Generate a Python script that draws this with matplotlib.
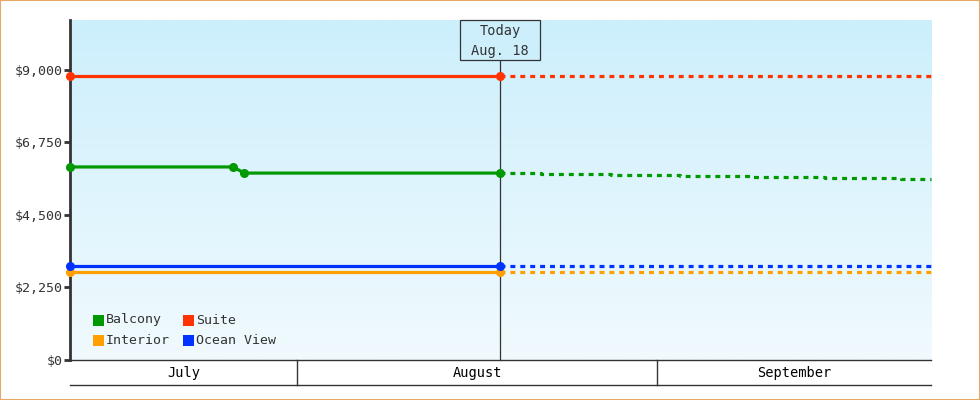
import matplotlib
matplotlib.use("Agg")
import matplotlib.pyplot as plt
import matplotlib.dates as mdates
from matplotlib.patches import Rectangle
from matplotlib.ticker import FuncFormatter
import numpy as np
import pandas as pd

plt.rcParams['font.family'] = ['DejaVu Sans Mono', 'DejaVu Sans']

# ---------------- data ----------------
x_start = "2024-07-12 11:00"
x_end = "2024-09-24 14:00"
today = "2024-08-18 12:00"
today_label = "Today\nAug. 18"

suite_dates = ["2024-07-12 11:00", "2024-08-18 12:00"]
suite_vals = [8820, 8820]
suite_fc_dates = ["2024-08-18 12:00", "2024-09-24 14:00"]
suite_fc_vals = [8820, 8820]

balcony_dates = ["2024-07-12 11:00", "2024-07-26 12:00", "2024-07-27 11:00", "2024-08-18 12:00"]
balcony_vals = [5990, 5990, 5800, 5800]
balcony_fc_dates = ["2024-08-18 12:00", "2024-08-22 00:00", "2024-08-28 00:00", "2024-09-03 00:00",
                    "2024-09-09 00:00", "2024-09-15 12:00", "2024-09-22 00:00", "2024-09-24 14:00"]
balcony_fc_vals = [5800, 5770, 5740, 5710, 5680, 5650, 5620, 5620]

ocean_dates = ["2024-07-12 11:00", "2024-08-18 12:00"]
ocean_vals = [2920, 2920]
ocean_fc_dates = ["2024-08-18 12:00", "2024-09-24 14:00"]
ocean_fc_vals = [2920, 2920]

interior_dates = ["2024-07-12 11:00", "2024-08-18 12:00"]
interior_vals = [2730, 2730]
interior_fc_dates = ["2024-08-18 12:00", "2024-09-24 14:00"]
interior_fc_vals = [2730, 2730]

y_ticks = [0, 2250, 4500, 6750, 9000]
y_max = 10550

months = ["July", "August", "September"]
month_bounds = ["2024-07-12 11:00", "2024-08-01 00:00", "2024-09-01 00:00", "2024-09-24 14:00"]

colors = {"Balcony": "#009900", "Suite": "#ff3300", "Interior": "#ffa000", "Ocean View": "#0033ff"}
dark = "#333333"

# ---------------- figure ----------------
W, H = 980, 400
fig = plt.figure(figsize=(W / 100, H / 100), dpi=100)
L, R, T, B = 70, 931, 20, 360
ax = fig.add_axes([L / W, 1 - B / H, (R - L) / W, (B - T) / H])

def d(lst):
    return mdates.date2num(pd.to_datetime(lst))

ax.set_xlim(d([x_start])[0], d([x_end])[0])
ax.set_ylim(0, y_max)

# gradient background
grad = np.linspace(0, 1, 256).reshape(-1, 1)
top = np.array([204, 239, 252]) / 255
bot = np.array([241, 250, 254]) / 255
img = bot[None, None, :] * (1 - grad[:, :, None]) + top[None, None, :] * grad[:, :, None]
ax.imshow(img, extent=[0, 1, 0, 1], transform=ax.transAxes, aspect='auto',
          origin='lower', zorder=0)

lw = 2.3
ms = 5.5
series = [
    ("Suite", suite_dates, suite_vals, suite_fc_dates, suite_fc_vals),
    ("Balcony", balcony_dates, balcony_vals, balcony_fc_dates, balcony_fc_vals),
    ("Interior", interior_dates, interior_vals, interior_fc_dates, interior_fc_vals),
    ("Ocean View", ocean_dates, ocean_vals, ocean_fc_dates, ocean_fc_vals),
]

# today line
tx = d([today])[0]
ax.axvline(tx, color=dark, lw=0.9, zorder=2)

for name, ds, vs, fds, fvs in series:
    c = colors[name]
    ax.plot(d(fds), fvs, color=c, lw=lw, linestyle=(0, (1.55, 1.55)), drawstyle='steps-post',
            zorder=3, clip_on=False, solid_capstyle='butt', dash_capstyle='butt')
    ax.plot(d(ds), vs, color=c, lw=lw, marker='o', ms=ms, zorder=4, clip_on=False)

# today box: 80x40 px, hanging from plot top, centered on today
fig.canvas.draw()
px, py = ax.transData.transform((tx, y_max))
bw, bh = 80, 40
fig.add_artist(Rectangle((px - bw / 2, py - bh), bw, bh, fc='#cdeffc', ec=dark, lw=0.9,
                         transform=None, zorder=6))
fig.text(px / W, (py - bh / 2 - 1) / H, today_label, ha='center', va='center', fontsize=9.8,
         color=dark, linespacing=1.5, zorder=7)

# axes styling
for s in ['top', 'right']:
    ax.spines[s].set_visible(False)
ax.spines['left'].set_color(dark)
ax.spines['left'].set_linewidth(2)
ax.spines['bottom'].set_color(dark)
ax.spines['bottom'].set_linewidth(1)
ax.set_yticks(y_ticks)
ax.yaxis.set_major_formatter(FuncFormatter(lambda v, p: f"${v:,.0f}"))
ax.tick_params(axis='y', direction='out', length=4, width=2, color=dark, labelsize=9.5,
               labelcolor=dark, pad=1)
ax.set_xticks([])

# month band
trans = ax.get_xaxis_transform()
band = -25 / (B - T)
ax.plot([0, 1], [band, band], transform=ax.transAxes, color=dark, lw=1, clip_on=False)
mb = d(month_bounds)
for b in mb[1:-1]:
    ax.plot([b, b], [0, band], transform=trans, color=dark, lw=1, clip_on=False)
for i, m in enumerate(months):
    ax.text((mb[i] + mb[i + 1]) / 2, band / 2, m, transform=trans, ha='center', va='center',
            fontsize=9.8, color='black')

# legend
legend_items = [("Balcony", 93, 320), ("Suite", 183, 320), ("Interior", 93, 340), ("Ocean View", 183, 340)]
for name, lx, ly in legend_items:
    fig.add_artist(Rectangle((lx / W, 1 - (ly + 5.5) / H), 11 / W, 11 / H, transform=fig.transFigure,
                             color=colors[name], lw=0))
    fig.text((lx + 13) / W, 1 - ly / H, name, ha='left', va='center', fontsize=9.5, color=dark)

# outer border
fig.add_artist(Rectangle((0, 0), 1, 1, transform=fig.transFigure, fill=False,
                         edgecolor='#e8a865', lw=1.5))

fig.savefig("out.png", dpi=100)
